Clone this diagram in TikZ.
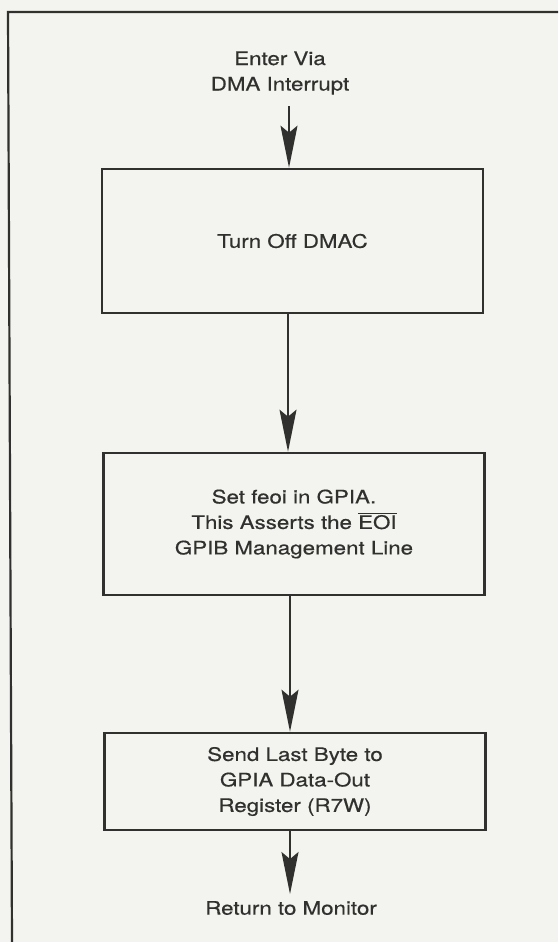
\documentclass[tikz,border=0pt]{standalone}
\usepackage{fontspec}
\newfontfamily\flowfont{TeX Gyre Heros}[FakeStretch=1.2,FakeBold=0.5]
\usetikzlibrary{arrows.meta}
\definecolor{ink}{RGB}{48,48,46}
\definecolor{paper}{RGB}{243,243,240}

\begin{document}
\begin{tikzpicture}[x=1pt,y=-1pt,
  every node/.style={font=\flowfont\fontsize{18.6}{25.5}\selectfont, text=ink,
    align=center, inner sep=0pt},
  procbox/.style={draw=ink, line width=2.6pt, minimum width=381pt},
  frameline/.style={draw=ink, line width=2.2pt},
  flow/.style={draw=ink, line width=1.8pt,
    -{Stealth[length=42pt,width=17pt,inset=7pt]}}]

% page and bounding box
\fill[paper] (0,0) rectangle (558,942);
\useasboundingbox (0,0) rectangle (558,942);

% surrounding frame (open to the right and bottom)
\coordinate (fbot) at (12,942);
\coordinate (fcorner) at (8,12);
\coordinate (fright) at (558,12);
\draw[frameline] (fbot) -- (fcorner) -- (fright);

% entry text
\node (enter) at (280,73) {Enter Via\\DMA Interrupt};

% process boxes
\node[procbox, minimum height=144pt] (off) at (292.5,241) {Turn Off DMAC};
\node[procbox, minimum height=142pt] (feoi) at (294,524)
  {Set feoi in GPIA.\\This Asserts the $\overline{\hbox{EOI}}$\\GPIB Management Line};
\node[procbox, minimum height=97pt] (last) at (295,781.5)
  {Send Last Byte to\\GPIA Data-Out\\Register (R7W)};

% exit text
\node (ret) at (291,908) {Return to Monitor};

% shaft positions
\coordinate (s1) at (289,106);
\coordinate (s2) at (288,0);
\coordinate (s3) at (290,0);
\coordinate (s4) at (290,0);
\coordinate (tip4) at (290,894);

% connectors
\draw[flow] (s1) -- (off.north -| s1);
\draw[flow] (off.south -| s2) -- (feoi.north -| s2);
\draw[flow] (feoi.south -| s3) -- (last.north -| s3);
\draw[flow] (last.south -| s4) -- (tip4);
\end{tikzpicture}
\end{document}
